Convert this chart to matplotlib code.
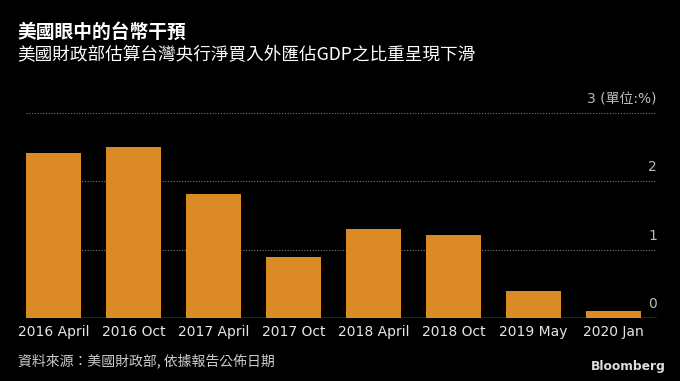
import matplotlib.pyplot as plt
from matplotlib.transforms import offset_copy

plt.rcParams['font.family'] = ['DejaVu Sans', 'Noto Sans CJK TC']

labels = ['2016 April', '2016 Oct', '2017 April', '2017 Oct',
          '2018 April', '2018 Oct', '2019 May', '2020 Jan']
values = [2.42, 2.51, 1.81, 0.90, 1.30, 1.21, 0.40, 0.11]
yticks = [0, 1, 2, 3]
ytick_labels = ['0', '1', '2', '3 (單位:%)']

bg = 'black'
bar_color = '#dc8a26'
cjk = ['Noto Sans CJK TC', 'DejaVu Sans']

fig = plt.figure(figsize=(6.8, 3.81), dpi=100, facecolor=bg)
ax = fig.add_axes([0.0382, 0.1646, 0.9278, 0.5388], facecolor=bg)

x = range(len(labels))
ax.bar(x, values, width=0.69, color=bar_color, zorder=2)

# dotted gridlines, solid baseline
for v in yticks[1:]:
    ax.axhline(v, color='#7a7a7a', lw=0.8, ls=(0, (1, 1.5)), zorder=1)
ax.axhline(0, color='#aaaaaa', lw=1.0, zorder=3)

ax.set_xlim(-0.345, 7.545)
ax.set_ylim(0, 3)
ax.set_xticks(list(x))
ax.set_xticklabels(labels, fontsize=10, color='#e6e6e6')
ax.tick_params(axis='x', length=0, pad=5)
ax.set_yticks([])
for s in ax.spines.values():
    s.set_visible(False)

# y labels sit above their gridlines at the right edge
trans = offset_copy(ax.get_yaxis_transform(), fig=fig, x=0, y=14, units='dots')
for v, t in zip(yticks, ytick_labels):
    ax.text(1.0, v, t, transform=trans, ha='right', va='center',
            fontsize=10, color='#bbbbbb', clip_on=False)

fig.text(0.026, 0.9147, '美國眼中的台幣干預', fontsize=13.5, fontweight='bold',
         color='white', family=cjk, va='center')
fig.text(0.026, 0.8543, '美國財政部估算台灣央行淨買入外匯佔GDP之比重呈現下滑', fontsize=12.7,
         color='white', family=cjk, va='center')
fig.text(0.026, 0.052, '資料來源：美國財政部, 依據報告公佈日期', fontsize=10,
         color='#cccccc', family=cjk, va='center')
fig.text(0.979, 0.037, 'Bloomberg', fontsize=8.8, fontweight='bold',
         color='#dddddd', ha='right', va='center')

fig.savefig('out.png', dpi=100, facecolor=bg)
